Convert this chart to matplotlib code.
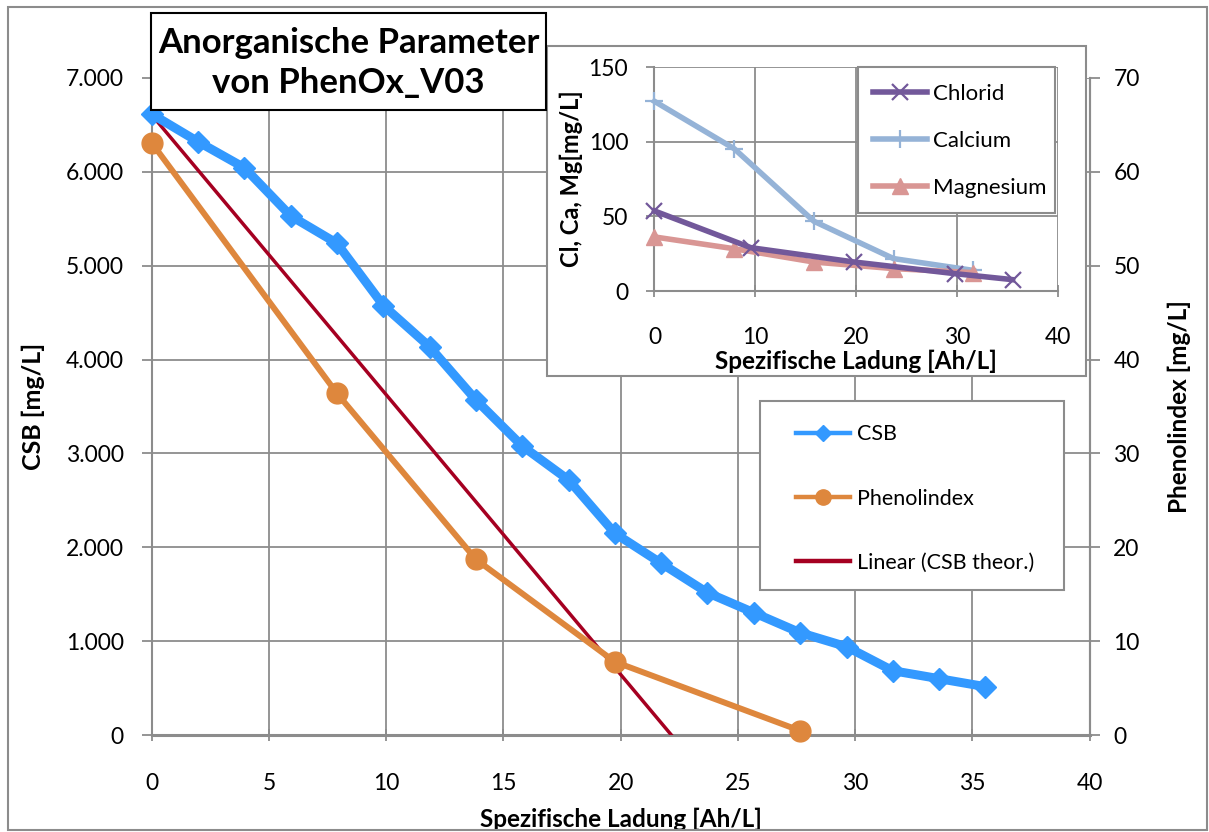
import matplotlib
matplotlib.use("Agg")
import matplotlib.pyplot as plt
from matplotlib.ticker import FuncFormatter, MultipleLocator
from matplotlib.patches import Rectangle
from matplotlib.lines import Line2D

# ---------------- data ----------------
csb_x = [0, 1.98, 3.95, 5.93, 7.9, 9.88, 11.85, 13.83, 15.8, 17.78, 19.75,
         21.73, 23.7, 25.68, 27.65, 29.63, 31.6, 33.58, 35.55]
csb_y = [6616, 6321, 6044, 5530, 5239, 4576, 4137, 3569, 3079, 2717, 2149,
         1829, 1516, 1303, 1090, 941, 685, 600, 515]

phenol_x = [0, 7.9, 13.83, 19.75, 27.65]
phenol_y = [63.1, 36.4, 18.7, 7.8, 0.46]

theor_x = [0, 22.16]
theor_y = [6607, 0]

inset_cl_x = [0, 9.56, 19.8, 29.8, 35.5]
inset_cl_y = [53.6, 29.0, 19.4, 11.6, 7.6]
inset_ca_x = [0, 7.9, 15.8, 23.7, 31.6]
inset_ca_y = [127.0, 95.3, 46.7, 21.7, 13.8]
inset_mg_x = [0, 7.9, 15.8, 23.7, 31.6]
inset_mg_y = [36.2, 28.3, 19.4, 15.0, 12.3]

title_lines = "Anorganische Parameter\nvon PhenOx_V03"
xlabel = "Spezifische Ladung [Ah/L]"
ylabel_left = "CSB [mg/L]"
ylabel_right = "Phenolindex [mg/L]"
ylabel_inset = "Cl, Ca, Mg[mg/L]"

# ---------------- style ----------------
FONT = ["Lato", "DejaVu Sans"]
plt.rcParams['font.family'] = FONT
W, H = 1209, 832
GRID = "#8c8c8c"
C_CSB = "#3399FF"
C_PH = "#DE873D"
C_LIN = "#A50021"
C_CL = "#72589A"
C_CA = "#95B3D7"
C_MG = "#D99694"
TICK_FS = 16.5
LAB_FS = 17.5
LEG_FS = 15.5
ILEG_FS = 16


def fx(px):
    return px / W


def fy(py):
    return 1 - py / H


fig = plt.figure(figsize=(W / 100, H / 100), dpi=100)
fig.patch.set_facecolor("white")

# outer border
fig.patches.append(Rectangle((fx(8), fy(830)), fx(1207) - fx(8), fy(7) - fy(830),
                             transform=fig.transFigure, fill=False,
                             edgecolor=GRID, lw=1.5, zorder=0))

# ---------------- main axes ----------------
x0, x1, y0, y1 = 151.7, 1089.7, 735, 78
ax = fig.add_axes([fx(x0), fy(y0), fx(x1) - fx(x0), fy(y1) - fy(y0)], zorder=0)
ax.set_xlim(0, 40)
ax.set_ylim(0, 7000)
ax.xaxis.set_major_locator(MultipleLocator(5))
ax.yaxis.set_major_locator(MultipleLocator(1000))
ax.yaxis.set_major_formatter(FuncFormatter(lambda v, p: f"{int(round(v)):,}".replace(",", ".")))
ax.grid(True, color=GRID, lw=1.3)
ax.set_axisbelow(True)
ax.spines["top"].set_visible(False)
for s in ["left", "bottom", "right"]:
    ax.spines[s].set_color(GRID)
    ax.spines[s].set_linewidth(1.5)
ax.spines["bottom"].set_linewidth(2.2)
ax.tick_params(axis="x", direction="inout", length=8, color=GRID, width=1.3,
               labelsize=TICK_FS, pad=23)
ax.tick_params(axis="y", direction="out", length=7, color=GRID, width=1.3,
               labelsize=TICK_FS, pad=13)
ax.set_xlabel(xlabel, fontsize=LAB_FS, fontweight="bold", labelpad=10)
ax.set_ylabel(ylabel_left, fontsize=18, fontweight="bold", labelpad=15)

ax.plot(csb_x, csb_y, color=C_CSB, lw=6.5, marker="D", ms=11.5,
        mfc=C_CSB, mec=C_CSB, zorder=4, clip_on=False)
ax.plot(theor_x, theor_y, color=C_LIN, lw=2.5, zorder=3)

ax2 = ax.twinx()
ax2.set_ylim(0, 70)
ax2.yaxis.set_major_locator(MultipleLocator(10))
for s in ["top", "left", "bottom"]:
    ax2.spines[s].set_visible(False)
ax2.spines["right"].set_color(GRID)
ax2.spines["right"].set_linewidth(1.5)
ax2.tick_params(axis="y", direction="out", length=7, color=GRID, width=1.3,
                labelsize=TICK_FS, pad=10)
ax2.set_ylabel(ylabel_right, fontsize=LAB_FS, fontweight="bold", labelpad=20)
ax2.plot(phenol_x, phenol_y, color=C_PH, lw=4.3, marker="o", ms=15,
         mfc=C_PH, mec=C_PH, zorder=4, clip_on=False)

# ---------------- title box ----------------
fig.patches.append(Rectangle((fx(151), fy(110)), fx(546) - fx(151), fy(13) - fy(110),
                             transform=fig.transFigure, facecolor="white",
                             edgecolor="black", lw=1.5, zorder=6))
fig.text(fx(348.5), fy(63), title_lines, ha="center", va="center",
         fontsize=25, fontweight="bold", linespacing=1.27, zorder=7)

# ---------------- main legend ----------------
fig.patches.append(Rectangle((fx(760), fy(590)), fx(1064) - fx(760), fy(401) - fy(590),
                             transform=fig.transFigure, facecolor="white",
                             edgecolor=GRID, lw=1.5, zorder=6))
h_csb = Line2D([], [], color=C_CSB, lw=3.2, marker="D", ms=8, mfc=C_CSB, mec=C_CSB)
h_ph = Line2D([], [], color=C_PH, lw=3.2, marker="o", ms=11, mfc=C_PH, mec=C_PH)
h_lin = Line2D([], [], color=C_LIN, lw=3.2)
fig.legend(handles=[h_csb, h_ph, h_lin],
           labels=["CSB", "Phenolindex", "Linear (CSB theor.)"], loc="upper left",
           bbox_to_anchor=(fx(777), fy(405)), bbox_transform=fig.transFigure,
           frameon=False, fontsize=LEG_FS, numpoints=1, handlelength=2.5,
           labelspacing=2.05, handletextpad=0.3).set_zorder(8)

# ---------------- inset ----------------
fig.patches.append(Rectangle((fx(547), fy(376)), fx(1086) - fx(547), fy(46) - fy(376),
                             transform=fig.transFigure, facecolor="white",
                             edgecolor=GRID, lw=1.5, zorder=2))
ix0, ix1, iy0, iy1 = 654.5, 1058, 291, 67
axi = fig.add_axes([fx(ix0), fy(iy0), fx(ix1) - fx(ix0), fy(iy1) - fy(iy0)], zorder=3)
axi.patch.set_alpha(0)
axi.set_xlim(0, 40)
axi.set_ylim(0, 150)
axi.xaxis.set_major_locator(MultipleLocator(10))
axi.yaxis.set_major_locator(MultipleLocator(50))
axi.grid(True, color=GRID, lw=1.3)
axi.set_axisbelow(True)
axi.spines["top"].set_visible(False)
axi.spines["right"].set_visible(False)
for s in ["left", "bottom"]:
    axi.spines[s].set_color(GRID)
    axi.spines[s].set_linewidth(1.5)
axi.tick_params(axis="x", direction="inout", length=8, color=GRID, width=1.3,
                labelsize=TICK_FS, pad=22)
axi.tick_params(axis="y", direction="out", length=6, color=GRID, width=1.3,
                labelsize=TICK_FS, pad=13)
axi.set_xlabel(xlabel, fontsize=LAB_FS, fontweight="bold", labelpad=1)
axi.set_ylabel(ylabel_inset, fontsize=17, fontweight="bold", labelpad=4)

l_cl, = axi.plot(inset_cl_x, inset_cl_y, color=C_CL, lw=4, marker="x", ms=11,
                 mew=1.6, zorder=5, clip_on=False, label="Chlorid")
l_ca, = axi.plot(inset_ca_x, inset_ca_y, color=C_CA, lw=4, marker="+", ms=13,
                 mew=1.6, zorder=4, clip_on=False, label="Calcium")
l_mg, = axi.plot(inset_mg_x, inset_mg_y, color=C_MG, lw=4, marker="^", ms=12,
                 zorder=4, clip_on=False, label="Magnesium")

fig.patches.append(Rectangle((fx(858), fy(213)), fx(1055) - fx(858), fy(67) - fy(213),
                             transform=fig.transFigure, facecolor="white",
                             edgecolor=GRID, lw=1.5, zorder=6))
fig.legend(handles=[l_cl, l_ca, l_mg], loc="upper left",
           bbox_to_anchor=(fx(853), fy(64)), bbox_transform=fig.transFigure,
           frameon=False, fontsize=ILEG_FS, numpoints=1, handlelength=2.43,
           labelspacing=1.22, handletextpad=0.25).set_zorder(8)

fig.savefig("out.png", dpi=100)
